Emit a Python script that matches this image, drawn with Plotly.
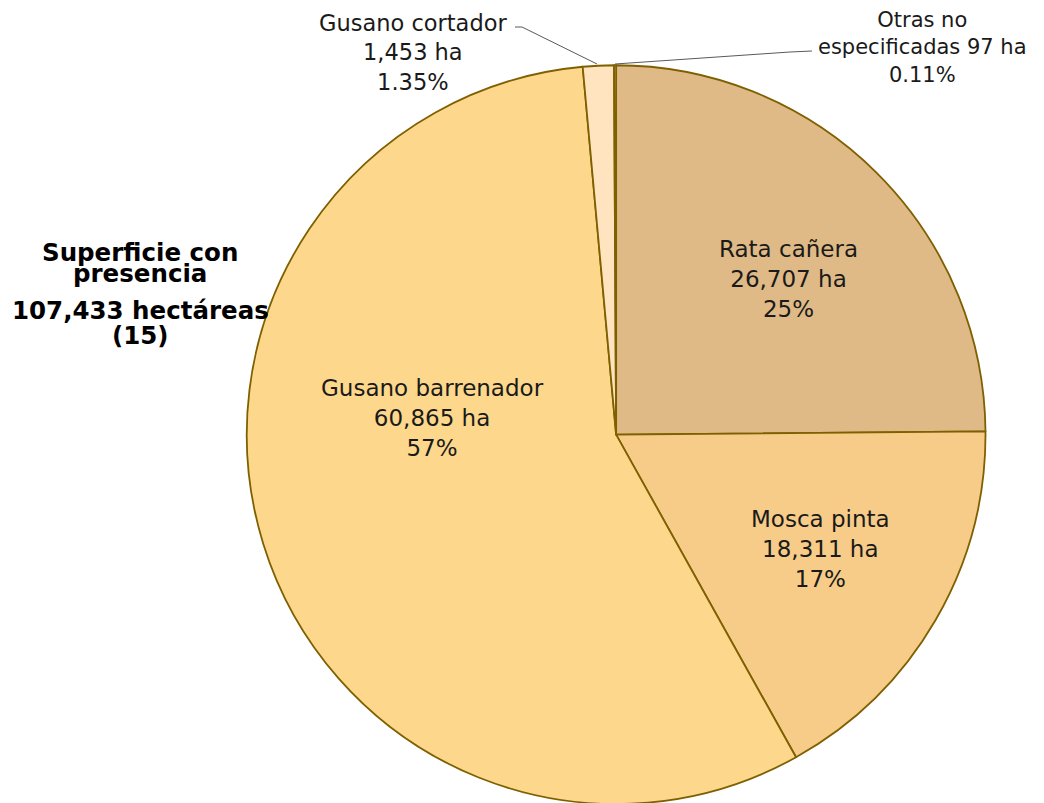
import plotly.graph_objects as go

categories = ["Rata cañera", "Mosca pinta", "Gusano barrenador", "Gusano cortador", "Otras no<br>especificadas"]
hectares = [26707, 18311, 60865, 1453, 97]
pct_labels = ["25%", "17%", "57%", "1.35%", "0.11%"]
ha_labels = ["26,707", "18,311", "60,865", "1,453", "97"]
colors = ["#DFBA86", "#F7CC88", "#FDD88C", "#FFE4BF", "#D9AE74"]

W, H = 1044, 803
OFF = 8  # page body margin


def px(x):
    return (x - OFF) / W


def py(y):
    return 1 - (y - OFF) / H


# label centres (window pixels) and sizes
label_px = [(788, 279), (820, 549), (432, 418), (413, 52), (922, 48)]
label_size = [23, 23, 23, 22.5, 21]

FONT = "DejaVu Sans"
TXT = "#1a1a1a"

fig = go.Figure(go.Pie(
    labels=categories,
    values=hectares,
    textinfo="none",
    marker=dict(colors=colors, line=dict(color="#7F6000", width=1.8)),
    sort=False,
    direction="clockwise",
    rotation=0,
    domain=dict(x=[0.228, 0.937], y=[0.0087, 0.9287]),
    hoverinfo="label+value+percent",
))

for i, c in enumerate(categories):
    if i == 4:
        txt = f"{c} {ha_labels[i]} ha<br>{pct_labels[i]}"
    else:
        txt = f"{c}<br>{ha_labels[i]} ha<br>{pct_labels[i]}"
    fig.add_annotation(x=px(label_px[i][0]), y=py(label_px[i][1]), xref="paper", yref="paper",
                       showarrow=False, text=txt, font=dict(family=FONT, size=label_size[i], color=TXT),
                       align="center", xanchor="center", yanchor="middle")

title_lines = [("Superficie con", 252), ("presencia", 273), ("107,433 hectáreas", 311), ("(15)", 335)]
for t, ypx in title_lines:
    fig.add_annotation(x=px(140), y=py(ypx), xref="paper", yref="paper", showarrow=False,
                       text=f"<b>{t}</b>", font=dict(family=FONT, size=24.5, color="black"),
                       xanchor="center", yanchor="middle")

# leader lines
fig.add_shape(type="path", xref="paper", yref="paper",
              path=f"M {px(515)},{py(27)} L {px(522)},{py(27)} L {px(597)},{py(64)}",
              line=dict(color="#595959", width=1))
fig.add_shape(type="path", xref="paper", yref="paper",
              path=f"M {px(615)},{py(64)} L {px(790)},{py(52)} L {px(812)},{py(51)}",
              line=dict(color="#595959", width=1))

fig.update_layout(
    width=W, height=H,
    margin=dict(l=0, r=0, t=0, b=0),
    paper_bgcolor="white",
    showlegend=False,
)

fig.write_html("out.html")
